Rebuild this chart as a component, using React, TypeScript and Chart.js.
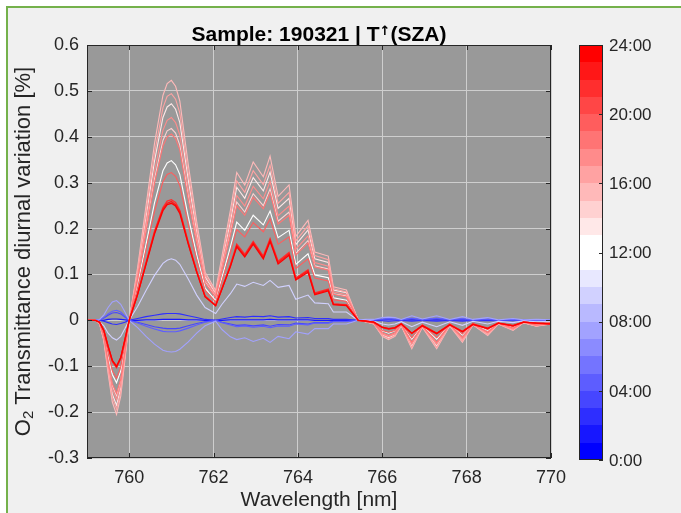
import React, { useEffect, useRef } from 'react';
import { Chart, registerables } from 'chart.js';

Chart.register(...registerables);

// ---------------- data ----------------
const WAVELENGTHS = [
  759.0, 759.2, 759.3, 759.4, 759.5, 759.6, 759.7, 759.8, 759.9, 760.0,
  760.2, 760.4, 760.6, 760.8, 760.9, 761.0, 761.1, 761.2, 761.4, 761.6, 761.8, 762.05,
  762.2, 762.4, 762.55, 762.74, 762.94, 763.18, 763.34, 763.53, 763.79, 763.95,
  764.24, 764.4, 764.72, 764.84, 765.15, 765.43, 765.6, 765.8, 766.0, 766.15,
  766.3, 766.45, 766.7, 766.95, 767.29, 767.6, 767.9, 768.15, 768.5, 768.75,
  769.1, 769.35, 769.65, 770.0,
];

const X_TICKS = [760, 762, 764, 766, 768, 770];
const Y_TICKS = [-0.3, -0.2, -0.1, 0, 0.1, 0.2, 0.3, 0.4, 0.5, 0.6];
const COLORBAR_TICKS = [0, 4, 8, 12, 16, 20, 24];
const COLORBAR_LABELS = ['0:00', '04:00', '08:00', '12:00', '16:00', '20:00', '24:00'];

const SERIES_A = [0, 0, -0.008, -0.045, -0.115, -0.178, -0.205, -0.165, -0.085, 0,
  0.115, 0.25, 0.385, 0.49, 0.516, 0.523, 0.51, 0.478, 0.34, 0.215, 0.105, 0.065,
  0.14, 0.24, 0.322, 0.295, 0.345, 0.313, 0.358, 0.27, 0.295, 0.183,
  0.218, 0.149, 0.14, 0.073, 0.066, 0, -0.003, -0.008, -0.035, -0.042,
  -0.035, -0.012, -0.062, -0.015, -0.062, -0.012, -0.048, -0.01, -0.033, -0.008,
  -0.022, -0.005, -0.013, -0.008];
const SERIES_B = [0, 0, -0.008, -0.043, -0.109, -0.168, -0.194, -0.156, -0.080, 0,
  0.109, 0.236, 0.364, 0.463, 0.488, 0.494, 0.482, 0.452, 0.321, 0.203, 0.099, 0.061,
  0.132, 0.227, 0.304, 0.279, 0.326, 0.296, 0.338, 0.255, 0.279, 0.173,
  0.206, 0.141, 0.132, 0.069, 0.062, 0, -0.003, -0.008, -0.033, -0.040,
  -0.033, -0.011, -0.059, -0.014, -0.059, -0.011, -0.045, -0.009, -0.031, -0.008,
  -0.021, -0.005, -0.012, -0.008];
const SERIES_C = [0, 0, -0.007, -0.041, -0.104, -0.161, -0.185, -0.149, -0.077, 0,
  0.104, 0.226, 0.347, 0.442, 0.465, 0.472, 0.460, 0.431, 0.307, 0.194, 0.095, 0.059,
  0.126, 0.216, 0.290, 0.266, 0.311, 0.282, 0.323, 0.244, 0.266, 0.165,
  0.197, 0.134, 0.126, 0.066, 0.060, 0, -0.003, -0.007, -0.032, -0.038,
  -0.032, -0.011, -0.056, -0.014, -0.056, -0.011, -0.043, -0.009, -0.030, -0.007,
  -0.020, -0.005, -0.012, -0.007];
const SERIES_D = [0, 0, -0.007, -0.038, -0.097, -0.150, -0.173, -0.139, -0.072, 0,
  0.097, 0.211, 0.325, 0.414, 0.436, 0.442, 0.431, 0.404, 0.287, 0.182, 0.089, 0.055,
  0.118, 0.203, 0.272, 0.249, 0.292, 0.265, 0.303, 0.228, 0.249, 0.155,
  0.184, 0.126, 0.118, 0.062, 0.056, 0, -0.003, -0.007, -0.030, -0.035,
  -0.030, -0.010, -0.052, -0.013, -0.052, -0.010, -0.041, -0.009, -0.028, -0.007,
  -0.019, -0.004, -0.011, -0.007];
const SERIES_E = [0, 0, -0.006, -0.036, -0.092, -0.142, -0.164, -0.132, -0.068, 0,
  0.092, 0.200, 0.308, 0.392, 0.413, 0.418, 0.408, 0.382, 0.272, 0.172, 0.084, 0.052,
  0.112, 0.192, 0.258, 0.236, 0.276, 0.250, 0.286, 0.216, 0.236, 0.146,
  0.174, 0.119, 0.112, 0.058, 0.053, 0, -0.002, -0.006, -0.028, -0.034,
  -0.028, -0.010, -0.050, -0.012, -0.050, -0.010, -0.038, -0.008, -0.026, -0.006,
  -0.018, -0.004, -0.010, -0.006];
const SERIES_F = [0, 0, -0.006, -0.035, -0.089, -0.138, -0.159, -0.128, -0.066, 0,
  0.089, 0.194, 0.299, 0.380, 0.400, 0.406, 0.396, 0.371, 0.264, 0.167, 0.081, 0.050,
  0.109, 0.186, 0.250, 0.229, 0.268, 0.243, 0.278, 0.210, 0.229, 0.142,
  0.169, 0.116, 0.109, 0.057, 0.051, 0, -0.002, -0.006, -0.027, -0.033,
  -0.027, -0.009, -0.048, -0.012, -0.048, -0.009, -0.037, -0.008, -0.026, -0.006,
  -0.017, -0.004, -0.010, -0.006];
const SERIES_G = [0, 0, -0.005, -0.030, -0.077, -0.118, -0.136, -0.110, -0.057, 0,
  0.076, 0.166, 0.256, 0.326, 0.343, 0.348, 0.339, 0.318, 0.226, 0.143, 0.070, 0.043,
  0.093, 0.160, 0.214, 0.196, 0.229, 0.208, 0.238, 0.180, 0.196, 0.122,
  0.145, 0.099, 0.093, 0.049, 0.044, 0, -0.002, -0.005, -0.023, -0.028,
  -0.023, -0.008, -0.041, -0.010, -0.041, -0.008, -0.032, -0.007, -0.022, -0.005,
  -0.015, -0.003, -0.009, -0.005];
const SERIES_H = [0, 0, -0.005, -0.028, -0.071, -0.110, -0.126, -0.102, -0.052, 0,
  0.071, 0.154, 0.237, 0.302, 0.318, 0.322, 0.314, 0.294, 0.209, 0.132, 0.065, 0.040,
  0.086, 0.148, 0.198, 0.182, 0.213, 0.193, 0.221, 0.166, 0.182, 0.113,
  0.134, 0.092, 0.086, 0.045, 0.041, 0, -0.002, -0.005, -0.022, -0.026,
  -0.022, -0.007, -0.038, -0.009, -0.038, -0.007, -0.030, -0.006, -0.020, -0.005,
  -0.014, -0.003, -0.008, -0.005];
const SERIES_I = [0, 0, -0.004, -0.023, -0.058, -0.090, -0.103, -0.083, -0.043, 0,
  0.058, 0.126, 0.194, 0.246, 0.260, 0.263, 0.257, 0.240, 0.171, 0.108, 0.053, 0.033,
  0.070, 0.121, 0.166, 0.144, 0.172, 0.140, 0.178, 0.129, 0.148, 0.092,
  0.110, 0.060, 0.068, 0.036, 0.034, 0, -0.002, -0.004, -0.015, -0.018,
  -0.017, -0.008, -0.029, -0.012, -0.029, -0.009, -0.025, -0.009, -0.018, -0.006,
  -0.012, -0.004, -0.006, -0.008];
const SERIES_J = [0, 0, -0.004, -0.022, -0.057, -0.088, -0.101, -0.082, -0.042, 0,
  0.057, 0.124, 0.191, 0.243, 0.255, 0.259, 0.252, 0.237, 0.168, 0.106, 0.052, 0.032,
  0.069, 0.119, 0.163, 0.141, 0.169, 0.137, 0.175, 0.126, 0.145, 0.090,
  0.108, 0.058, 0.066, 0.035, 0.033, 0, -0.002, -0.004, -0.016, -0.019,
  -0.017, -0.007, -0.028, -0.011, -0.028, -0.009, -0.024, -0.008, -0.017, -0.006,
  -0.011, -0.004, -0.006, -0.007];
const SERIES_K = [0, 0, -0.004, -0.022, -0.056, -0.087, -0.100, -0.081, -0.041, 0,
  0.056, 0.122, 0.188, 0.239, 0.252, 0.255, 0.249, 0.233, 0.166, 0.105, 0.051, 0.032,
  0.068, 0.117, 0.160, 0.138, 0.166, 0.134, 0.172, 0.123, 0.142, 0.088,
  0.105, 0.056, 0.064, 0.034, 0.032, 0, -0.001, -0.004, -0.015, -0.018,
  -0.016, -0.008, -0.028, -0.012, -0.029, -0.010, -0.025, -0.009, -0.018, -0.006,
  -0.012, -0.004, -0.006, -0.008];
const SERIES_M = [0, 0, -0.003, -0.012, -0.028, -0.038, -0.043, -0.035, -0.018, 0,
  0.030, 0.065, 0.098, 0.124, 0.131, 0.134, 0.131, 0.122, 0.090, 0.055, 0.028, 0.015,
  0.035, 0.058, 0.079, 0.074, 0.083, 0.076, 0.087, 0.072, 0.076, 0.046,
  0.055, 0.038, 0.036, 0.018, 0.018, 0, 0, -0.002, -0.008, -0.010,
  -0.008, -0.003, -0.014, -0.004, -0.014, -0.003, -0.011, -0.002, -0.008, -0.002,
  -0.005, -0.001, -0.003, -0.002];
const SERIES_N = [0, 0, 0.002, 0.012, 0.028, 0.040, 0.043, 0.035, 0.018, 0,
  -0.016, -0.035, -0.052, -0.065, -0.068, -0.069, -0.068, -0.063, -0.047, -0.028, -0.012, -0.002,
  -0.020, -0.036, -0.042, -0.038, -0.046, -0.039, -0.048, -0.035, -0.040, -0.025,
  -0.030, -0.018, -0.018, -0.008, -0.008, 0, 0.002, 0.002, 0.006, 0.007,
  0.006, 0.002, 0.010, 0.003, 0.010, 0.002, 0.008, 0.002, 0.006, 0.001,
  0.004, 0.001, 0.002, 0.001];
const SERIES_O = [0, 0, 0.001, 0.006, 0.014, 0.020, 0.022, 0.018, 0.009, 0,
  -0.006, -0.013, -0.019, -0.024, -0.025, -0.025, -0.025, -0.023, -0.017, -0.010, -0.004, 0,
  -0.005, -0.010, -0.014, -0.012, -0.015, -0.013, -0.016, -0.012, -0.013, -0.008,
  -0.010, -0.006, -0.006, -0.003, -0.003, 0, 0.001, 0.001, 0.003, 0.004,
  0.003, 0.001, 0.005, 0.001, 0.005, 0.001, 0.004, 0.001, 0.003, 0.001,
  0.002, 0, 0.001, 0];
const SERIES_P = [0, 0, 0.001, 0.005, 0.011, 0.016, 0.017, 0.014, 0.007, 0,
  -0.004, -0.009, -0.014, -0.017, -0.018, -0.018, -0.018, -0.017, -0.012, -0.007, -0.003, 0,
  -0.004, -0.008, -0.011, -0.010, -0.012, -0.010, -0.013, -0.009, -0.010, -0.006,
  -0.008, -0.005, -0.005, -0.002, -0.002, 0, 0.001, 0.001, 0.002, 0.003,
  0.002, 0.001, 0.004, 0.001, 0.004, 0.001, 0.003, 0, 0.002, 0,
  0.001, 0, 0.001, 0];
const SERIES_R = [0, 0, 0, -0.002, -0.005, -0.008, -0.009, -0.007, -0.004, 0,
  0.004, 0.008, 0.011, 0.014, 0.015, 0.015, 0.015, 0.014, 0.010, 0.006, 0.002, 0,
  0.003, 0.006, 0.008, 0.007, 0.009, 0.008, 0.010, 0.007, 0.008, 0.005,
  0.006, 0.004, 0.004, 0.002, 0.002, 0, 0, 0, -0.001, -0.002,
  -0.001, 0, -0.002, 0, -0.002, 0, -0.002, 0, -0.001, 0,
  -0.001, 0, 0, 0];
const SERIES_Q = [0, 0, 0, 0, 0.002, 0.003, 0.003, 0.002, 0.001, 0,
  0, 0.001, 0.001, 0.002, 0.002, 0.002, 0.002, 0.002, 0.001, 0.001, 0, 0,
  0, 0.001, 0.001, 0.001, 0.001, 0.001, 0.002, 0.001, 0.001, 0.001,
  0.001, 0, 0, 0, 0, 0, 0, 0, 0.001, 0.001,
  0.001, 0, 0.001, 0, 0.001, 0, 0.001, 0, 0, 0,
  0, 0, 0, 0];

// measurement hour of each series (colour index on the 24-step colour bar)
const SERIES_VALUES = [SERIES_K, SERIES_J, SERIES_I, SERIES_H, SERIES_F, SERIES_D, SERIES_B,
  SERIES_A, SERIES_E, SERIES_C, SERIES_G, SERIES_M, SERIES_N, SERIES_O, SERIES_P, SERIES_R, SERIES_Q];
const SERIES_HOURS = [23, 22, 21, 19, 18, 17, 16, 15, 14, 13, 12, 9, 7, 4, 3, 2, 1];

// ---------------- styles ----------------
const FONT = "'Liberation Sans', Arial, Helvetica, sans-serif";
const AXIS_COLOR = '#262626';
const GRID_COLOR = 'rgb(206,206,206)';
const PLOT_BG = '#999999';
const FIG_BG = '#f0f0f0';

function colormap(idx: number): string {
  if (idx < 12) {
    const v = Math.round((255 * idx) / 11);
    return `rgb(${v},${v},255)`;
  }
  const v = Math.round(255 * (1 - (idx - 12) / 11));
  return `rgb(255,${v},${v})`;
}

const chromePlugin = {
  id: 'chrome',
  beforeDraw(chart: any) {
    const { ctx, chartArea: ca, width, height } = chart;
    ctx.save();
    ctx.fillStyle = '#ffffff';
    ctx.fillRect(0, 0, width, height);
    ctx.fillStyle = FIG_BG;
    ctx.fillRect(8, 8, width, height);
    ctx.fillStyle = '#74b14b';
    ctx.fillRect(6, 6, 2, height);
    ctx.fillRect(6, 6, width, 2);
    ctx.fillStyle = PLOT_BG;
    ctx.fillRect(ca.left, ca.top, ca.right - ca.left, ca.bottom - ca.top);
    ctx.restore();
  },
  afterDraw(chart: any) {
    const { ctx, chartArea: ca, scales } = chart;
    ctx.save();
    // axes box
    ctx.strokeStyle = AXIS_COLOR;
    ctx.lineWidth = 1;
    ctx.strokeRect(ca.left + 0.5, ca.top + 0.5, ca.right - ca.left - 1, ca.bottom - ca.top - 1);
    // inward ticks
    const tl = 5;
    ctx.beginPath();
    X_TICKS.forEach((v) => {
      const px = Math.round(scales.x.getPixelForValue(v)) + 0.5;
      ctx.moveTo(px, ca.bottom);
      ctx.lineTo(px, ca.bottom - tl);
      ctx.moveTo(px, ca.top);
      ctx.lineTo(px, ca.top + tl);
    });
    Y_TICKS.forEach((v) => {
      const py = Math.round(scales.y.getPixelForValue(v)) + 0.5;
      ctx.moveTo(ca.left, py);
      ctx.lineTo(ca.left + tl, py);
      ctx.moveTo(ca.right, py);
      ctx.lineTo(ca.right - tl, py);
    });
    ctx.stroke();

    // title
    ctx.fillStyle = '#000000';
    ctx.textBaseline = 'alphabetic';
    const bold = `bold 21px ${FONT}`;
    const supF = `bold 13px 'DejaVu Sans', ${FONT}`;
    const t1 = 'Sample: 190321 | T';
    const t2 = '\u2191';
    const t3 = '(SZA)';
    ctx.font = bold;
    const w1 = ctx.measureText(t1).width;
    const w3 = ctx.measureText(t3).width;
    ctx.font = supF;
    const w2 = ctx.measureText(t2).width;
    const cx = (ca.left + ca.right) / 2;
    let x0 = cx - (w1 + w2 + w3) / 2;
    const base = 41;
    ctx.textAlign = 'left';
    ctx.font = bold;
    ctx.fillText(t1, x0, base);
    x0 += w1;
    ctx.font = supF;
    ctx.fillText(t2, x0, base - 6);
    x0 += w2;
    ctx.font = bold;
    ctx.fillText(t3, x0, base);

    // x axis title
    ctx.fillStyle = AXIS_COLOR;
    ctx.font = `21px ${FONT}`;
    ctx.textAlign = 'center';
    ctx.fillText('Wavelength [nm]', cx, 506);

    // y axis title with subscript
    const yF = `22px ${FONT}`;
    const subF = `15px ${FONT}`;
    const s1 = 'O';
    const s2 = '2';
    const s3 = ' Transmittance diurnal variation [%]';
    ctx.font = yF;
    const a1 = ctx.measureText(s1).width;
    const a3 = ctx.measureText(s3).width;
    ctx.font = subF;
    const a2 = ctx.measureText(s2).width;
    const cy = (ca.top + ca.bottom) / 2;
    ctx.save();
    ctx.translate(30, cy);
    ctx.rotate(-Math.PI / 2);
    ctx.textAlign = 'left';
    let lx = -(a1 + a2 + a3) / 2;
    ctx.font = yF;
    ctx.fillText(s1, lx, 0);
    lx += a1;
    ctx.font = subF;
    ctx.fillText(s2, lx, 3);
    lx += a2;
    ctx.font = yF;
    ctx.fillText(s3, lx, 0);
    ctx.restore();

    // colour bar
    const cbL = 579;
    const cbR = 603;
    const cbT = ca.top;
    const cbB = ca.bottom + 2;
    const n = 24;
    const hb = (cbB - cbT) / n;
    for (let i = 0; i < n; i++) {
      const yb = Math.round(cbB - i * hb);
      const yt = Math.round(cbB - (i + 1) * hb);
      ctx.fillStyle = colormap(i);
      ctx.fillRect(cbL, yt, cbR - cbL, yb - yt);
    }
    ctx.strokeStyle = AXIS_COLOR;
    ctx.strokeRect(cbL + 0.5, cbT + 0.5, cbR - cbL - 1, cbB - cbT - 1);
    ctx.beginPath();
    COLORBAR_TICKS.forEach((h) => {
      const py = Math.round(cbB - (h / 24) * (cbB - cbT)) + 0.5;
      ctx.moveTo(cbR, py);
      ctx.lineTo(cbR - 4, py);
    });
    ctx.stroke();
    ctx.fillStyle = AXIS_COLOR;
    ctx.font = `17px ${FONT}`;
    ctx.textAlign = 'left';
    ctx.textBaseline = 'middle';
    COLORBAR_TICKS.forEach((h, i) => {
      const py = cbB - (h / 24) * (cbB - cbT);
      ctx.fillText(COLORBAR_LABELS[i], 609, py + 1);
    });
    ctx.restore();
  },
};

export default function App() {
  const canvasRef = useRef<HTMLCanvasElement | null>(null);

  useEffect(() => {
    const canvas = canvasRef.current;
    if (!canvas) return;
    const datasets = SERIES_VALUES.map((vals, k) => ({
      label: `${SERIES_HOURS[k]}:00`,
      data: WAVELENGTHS.map((x, i) => ({ x, y: vals[i] })),
      borderColor: colormap(SERIES_HOURS[k]),
      borderWidth: SERIES_HOURS[k] >= 21 ? 1.3 : 1.1,
      pointRadius: 0,
      tension: 0,
      fill: false,
    }));
    const chart = new Chart(canvas, {
      type: 'line',
      data: { datasets },
      options: {
        responsive: false,
        animation: false,
        devicePixelRatio: 1,
        events: [],
        layout: { padding: { left: 0, top: 45, right: 130, bottom: 0 } },
        plugins: { legend: { display: false }, tooltip: { enabled: false }, title: { display: false } },
        scales: {
          x: {
            type: 'linear',
            min: 759,
            max: 770,
            afterBuildTicks: (s: any) => {
              s.ticks = X_TICKS.map((v) => ({ value: v }));
            },
            afterFit: (s: any) => {
              s.height = 55;
              s.paddingLeft = 0;
              s.paddingRight = 0;
            },
            grid: { color: GRID_COLOR, drawTicks: false, lineWidth: 1 },
            border: { display: false },
            ticks: {
              font: { family: FONT, size: 18 },
              color: AXIS_COLOR,
              padding: 9,
              maxRotation: 0,
              autoSkip: false,
              callback: (v: any) => String(v),
            },
          },
          y: {
            type: 'linear',
            min: -0.3,
            max: 0.6,
            afterBuildTicks: (s: any) => {
              s.ticks = Y_TICKS.map((v) => ({ value: v }));
            },
            afterFit: (s: any) => {
              s.width = 87;
              s.paddingTop = 0;
              s.paddingBottom = 0;
            },
            grid: { color: GRID_COLOR, drawTicks: false, lineWidth: 1 },
            border: { display: false },
            ticks: {
              font: { family: FONT, size: 18 },
              color: AXIS_COLOR,
              padding: 8,
              autoSkip: false,
              callback: (v: any) => (Math.abs(v) < 1e-9 ? '0' : Number(v).toFixed(1)),
            },
          },
        },
      },
      plugins: [chromePlugin],
    });
    return () => chart.destroy();
  }, []);

  return (
    <div style={{ position: 'absolute', left: 0, top: 0, width: 681, height: 513 }}>
      <canvas ref={canvasRef} width={681} height={513} style={{ display: 'block', width: 681, height: 513 }} />
    </div>
  );
}
